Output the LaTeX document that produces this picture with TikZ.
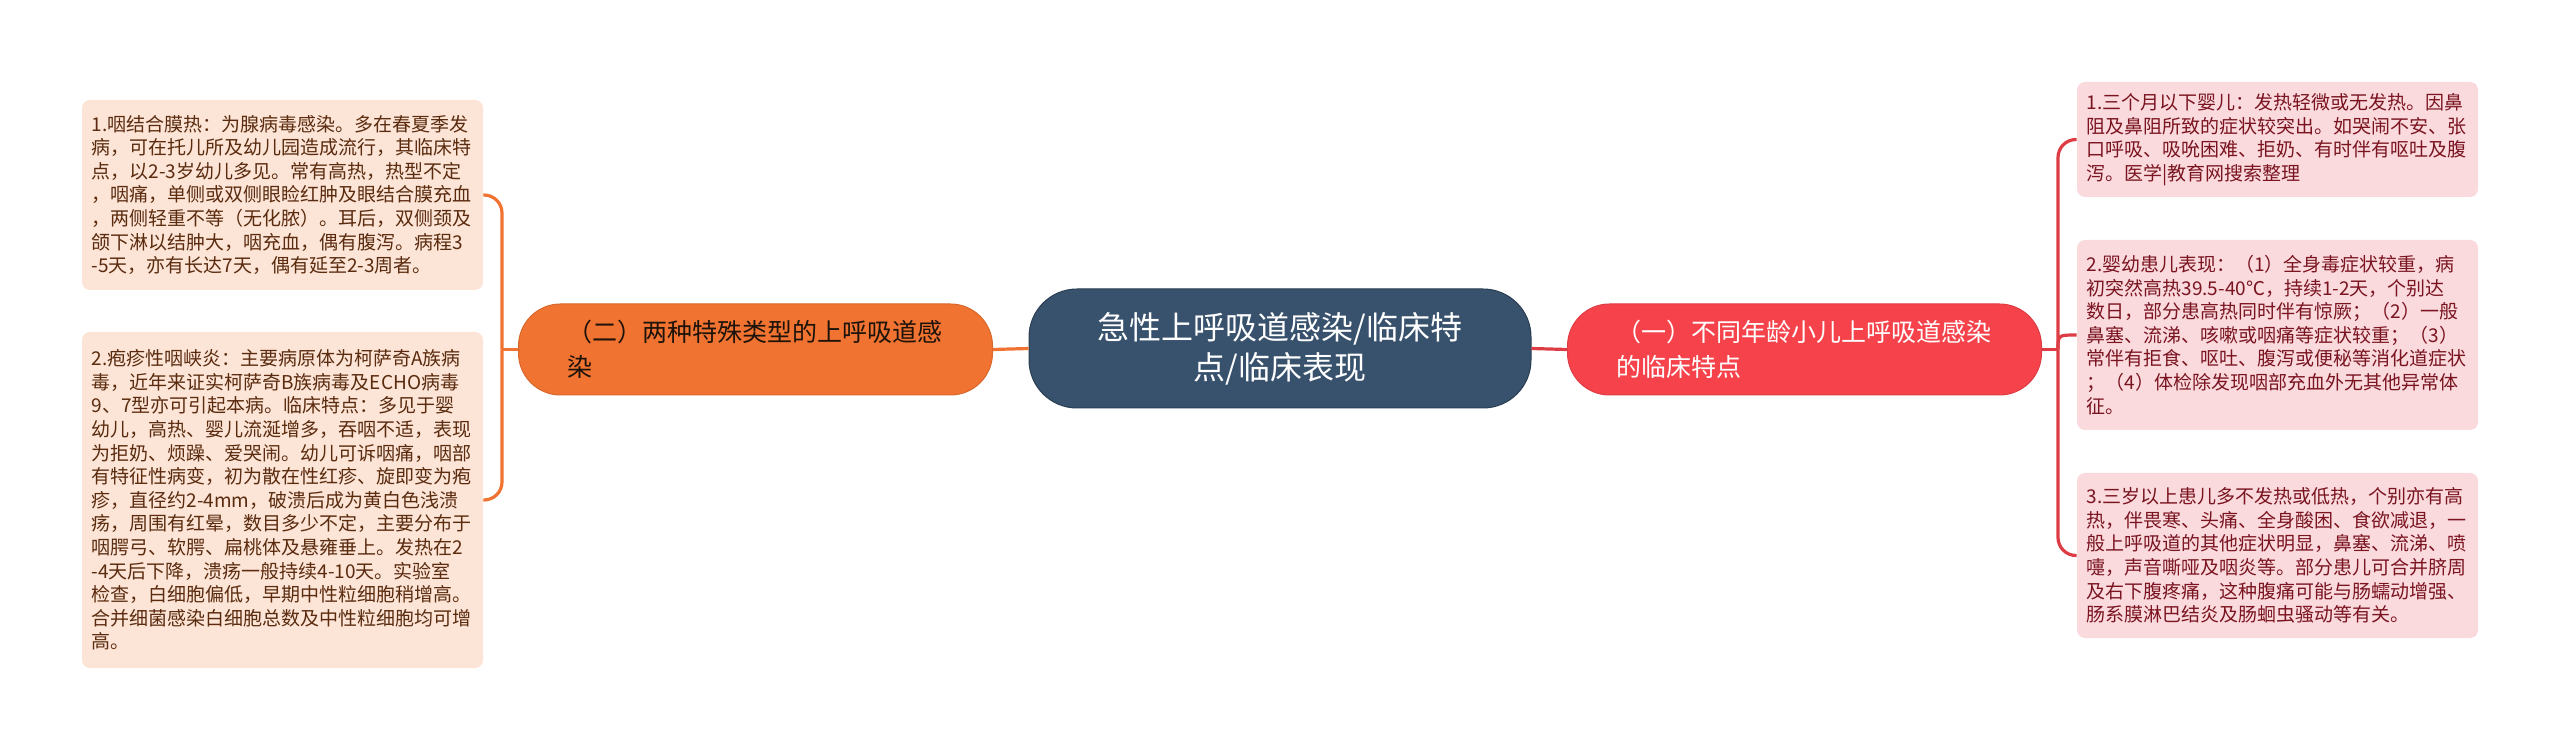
\documentclass[tikz,border=0pt]{standalone}
\usepackage{fontspec}
\setmainfont{Noto Sans CJK SC}
\usepackage{tikz}
\usepackage{xcolor}
\definecolor{rootblue}{HTML}{38526D}
\definecolor{secorange}{HTML}{F07331}
\definecolor{secred}{HTML}{F6434B}
\definecolor{leafpeach}{HTML}{FCE4D6}
\definecolor{leafpink}{HTML}{FADADD}
\definecolor{txtbrown}{HTML}{5A2B0E}
\definecolor{txtred}{HTML}{7A1420}

\begin{document}
\begin{tikzpicture}[x=0.5pt,y=-0.5pt,
		rootbox/.style={fill=rootblue,draw=rootblue!75!black,line width=0.5pt,rounded corners=24pt,text=white,align=center,font=\fontsize{16}{20}\selectfont,minimum width=251pt,minimum height=59.5pt,inner sep=0pt},
		secbox/.style={rounded corners=21pt,line width=0.5pt,align=left,text width=188pt,inner xsep=24.5pt,inner ysep=0pt,minimum height=45.5pt,font=\fontsize{12.5}{17.5}\selectfont},
		leafbox/.style={rounded corners=4pt,align=left,text width=191pt,inner xsep=4.75pt,inner ysep=0pt,font=\fontsize{9.5}{11.8}\selectfont},
		ol/.style={draw=secorange,line width=1.6pt},
		rl/.style={draw=secred!90!black,line width=1.6pt}]
	\useasboundingbox (0,0) rectangle (2560,753);
	\node[rootbox] (root) at (1280,348.5) {急性上呼吸道感染/临床特\\点/临床表现};
	\node[secbox,fill=secorange,draw=secorange!90!black,text=black!85!brown] (sec2) at (755.5,349.5) {（二）两种特殊类型的上呼吸道感\\染};
	\node[secbox,fill=secred,draw=secred!90!black,text=white] (sec1) at (1804.5,349.5) {（一）不同年龄小儿上呼吸道感染\\的临床特点};
	\node[leafbox,fill=leafpeach,text=txtbrown,minimum height=95pt] (la) at (282.5,195) {1.咽结合膜热：为腺病毒感染。多在春夏季发\\病，可在托儿所及幼儿园造成流行，其临床特\\点，以2-3岁幼儿多见。常有高热，热型不定\\，咽痛，单侧或双侧眼睑红肿及眼结合膜充血\\，两侧轻重不等（无化脓）。耳后，双侧颈及\\颌下淋以结肿大，咽充血，偶有腹泻。病程3\\-5天，亦有长达7天，偶有延至2-3周者。};
	\node[leafbox,fill=leafpeach,text=txtbrown,minimum height=168pt] (lb) at (282.5,500) {2.疱疹性咽峡炎：主要病原体为柯萨奇A族病\\毒，近年来证实柯萨奇B族病毒及ECHO病毒\\9、7型亦可引起本病。临床特点：多见于婴\\幼儿，高热、婴儿流涎增多，吞咽不适，表现\\为拒奶、烦躁、爱哭闹。幼儿可诉咽痛，咽部\\有特征性病变，初为散在性红疹、旋即变为疱\\疹，直径约2-4mm，破溃后成为黄白色浅溃\\疡，周围有红晕，数目多少不定，主要分布于\\咽腭弓、软腭、扁桃体及悬雍垂上。发热在2\\-4天后下降，溃疡一般持续4-10天。实验室\\检查，白细胞偏低，早期中性粒细胞稍增高。\\合并细菌感染白细胞总数及中性粒细胞均可增\\高。};
	\node[leafbox,fill=leafpink,text=txtred,minimum height=57.5pt] (ra) at (2277.5,139.5) {1.三个月以下婴儿：发热轻微或无发热。因鼻\\阻及鼻阻所致的症状较突出。如哭闹不安、张\\口呼吸、吸吮困难、拒奶、有时伴有呕吐及腹\\泻。医学|教育网搜索整理};
	\node[leafbox,fill=leafpink,text=txtred,minimum height=95pt] (rb) at (2277.5,335) {2.婴幼患儿表现：（1）全身毒症状较重，病\\初突然高热39.5-40℃，持续1-2天，个别达\\数日，部分患高热同时伴有惊厥；（2）一般\\鼻塞、流涕、咳嗽或咽痛等症状较重；（3）\\常伴有拒食、呕吐、腹泻或便秘等消化道症状\\；（4）体检除发现咽部充血外无其他异常体\\征。};
	\node[leafbox,fill=leafpink,text=txtred,minimum height=82.5pt] (rc) at (2277.5,555.5) {3.三岁以上患儿多不发热或低热，个别亦有高\\热，伴畏寒、头痛、全身酸困、食欲减退，一\\般上呼吸道的其他症状明显，鼻塞、流涕、喷\\嚏，声音嘶哑及咽炎等。部分患儿可合并脐周\\及右下腹疼痛，这种腹痛可能与肠蠕动增强、\\肠系膜淋巴结炎及肠蛔虫骚动等有关。};
	\coordinate (lj) at (502,349.5);
	\coordinate (rj) at (2058,349.5);
	\draw[ol] (sec2.east) -- (root.west);
	\draw[rl] (root.east) -- (sec1.west);
	\draw[ol] (sec2.west) -- (lj);
	\draw[ol,rounded corners=9pt] (lj) |- (la.east);
	\draw[ol,rounded corners=9pt] (lj) |- (lb.east);
	\draw[rl] (sec1.east) -- (rj);
	\draw[rl,rounded corners=9pt] (rj) |- (ra.west);
	\draw[rl] (rj) .. controls (rj |- rb.west) .. (rb.west);
	\draw[rl,rounded corners=9pt] (rj) |- (rc.west);
\end{tikzpicture}
\end{document}
